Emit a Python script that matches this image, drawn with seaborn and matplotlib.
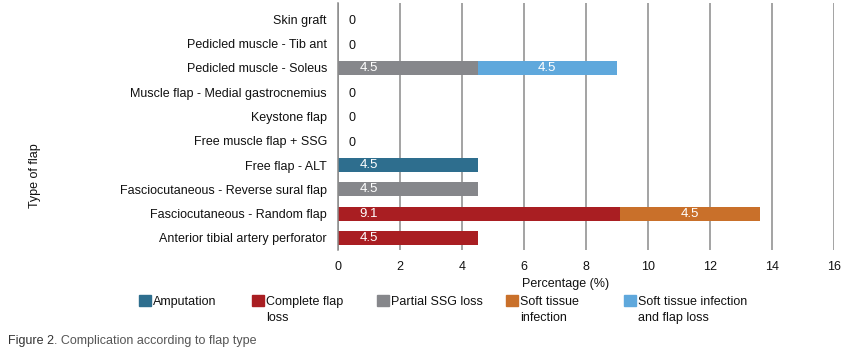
import numpy as np
import pandas as pd
import seaborn as sns
import matplotlib.pyplot as plt
from matplotlib.patches import Rectangle

# Datos
categorias = ["Skin graft", "Pedicled muscle - Tib ant", "Pedicled muscle - Soleus",
              "Muscle flap - Medial gastrocnemius", "Keystone flap", "Free muscle flap + SSG",
              "Free flap - ALT", "Fasciocutaneous - Reverse sural flap",
              "Fasciocutaneous - Random flap", "Anterior tibial artery perforator"]
amputacion = [0, 0, 0, 0, 0, 0, 4.5, 0, 0, 0]
perdida_completa = [0, 0, 0, 0, 0, 0, 0, 0, 9.1, 4.5]
perdida_ssg = [0, 0, 4.5, 0, 0, 0, 0, 4.5, 0, 0]
infeccion = [0, 0, 0, 0, 0, 0, 0, 0, 4.5, 0]
infeccion_perdida = [0, 0, 4.5, 0, 0, 0, 0, 0, 0, 0]

series_nombres = ["Amputation", "Complete flap\nloss", "Partial SSG loss",
                  "Soft tissue\ninfection", "Soft tissue infection\nand flap loss"]
colores = ["#2E6E8E", "#A91E22", "#86878B", "#C9702A", "#5FA8DC"]

df = pd.DataFrame({"flap": categorias, "s0": amputacion, "s1": perdida_completa,
                   "s2": perdida_ssg, "s3": infeccion, "s4": infeccion_perdida})
cols = ["s0", "s1", "s2", "s3", "s4"]
acum = df[cols].cumsum(axis=1)

sns.set_style("white")
plt.rcParams['font.family'] = ['Liberation Sans', 'DejaVu Sans']
fs = 9

fig = plt.figure(figsize=(8.58, 3.52), dpi=100)
ax = fig.add_axes([338 / 858, 1 - 250 / 352, (834 - 338) / 858, 247 / 352])

# Barras apiladas: dibujar del total hacia atrás
for i in reversed(range(len(cols))):
    sns.barplot(x=acum[cols[i]], y=df["flap"], orient="h", color=colores[i],
                width=0.58, linewidth=0, saturation=1, ax=ax)

# Etiquetas de valores
for j in range(len(categorias)):
    fila = df.loc[j, cols].values.astype(float)
    if fila.sum() == 0:
        ax.text(0.45, j + 0.08, "0", ha="center", va="center", fontsize=fs, color="#111")
        continue
    inicio = 0
    primero = True
    for v in fila:
        if v > 0:
            xpos = inicio + 1.0 if primero else inicio + v / 2
            ax.text(xpos, j, f"{v:.1f}", ha="center", va="center", fontsize=fs + 0.5, color="white")
            primero = False
        inicio += v

ax.set_xlim(0, 16)
ax.set_ylim(9.5, -0.675)
ax.set_xticks(np.arange(0, 17, 2))
ax.grid(axis="x", color="#8a8a8a", linewidth=1.1)
ax.set_axisbelow(True)
for s in ["top", "right", "bottom"]:
    ax.spines[s].set_visible(False)
ax.spines["left"].set_color("#8a8a8a")
ax.spines["left"].set_linewidth(1.1)
ax.tick_params(axis="x", length=5, color="#8a8a8a", width=1.1, pad=3, labelsize=fs, labelcolor="#111")
ax.tick_params(axis="y", length=0, pad=8, labelsize=fs, labelcolor="#111")
for lab in ax.get_yticklabels():
    lab.set_y(lab.get_position()[1])
ax.set_xlabel("Percentage (%)", fontsize=fs, color="#111")
ax.xaxis.set_label_coords(0.459, -0.112)
ax.set_ylabel("Type of flap", fontsize=fs, color="#111")
ax.yaxis.set_label_coords(-0.598, 0.3)

# Leyenda manual
xs = [139, 252, 377, 506, 624]
for i, (nombre, c) in enumerate(zip(series_nombres, colores)):
    x0 = xs[i] / 858
    fig.patches.append(Rectangle((x0, 1 - 306 / 352), 12 / 858, 11.5 / 352,
                                 transform=fig.transFigure, color=c))
    fig.text(x0 + 14 / 858, 1 - 296 / 352, nombre, fontsize=fs, color="#111",
             va="top", ha="left", linespacing=1.4)

# Pie de figura
t1 = fig.text(8 / 858, 1 - 341 / 352, "Figure 2", fontsize=fs, color="#333", va="center")
ax.annotate(". Complication according to flap type", xy=(1, 0.5), xycoords=t1,
            va="center", ha="left", fontsize=fs, color="#555", annotation_clip=False)

fig.savefig("out.png", dpi=100)
